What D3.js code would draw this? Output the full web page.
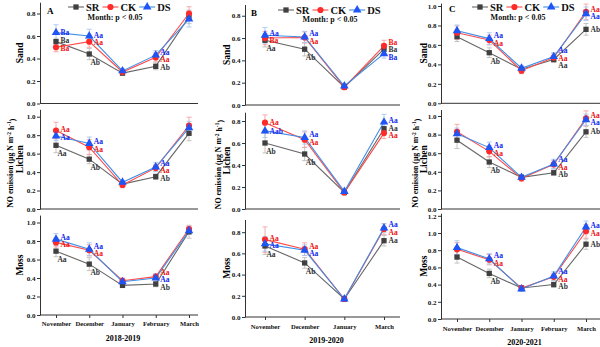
<!DOCTYPE html>
<html>
<head>
<meta charset="utf-8">
<script src="https://cdn.jsdelivr.net/npm/d3@7/dist/d3.min.js"></script>
<style>
  body { margin: 0; background: #fff; }
  text { font-family: "Liberation Serif", "Times New Roman", serif; font-weight: bold; }
</style>
</head>
<body>
<svg id="chart" width="600" height="347"></svg>
<script>
// categories
const monthsAC = [ "November", "December", "January", "February", "March" ];
const monthsB = [ "November", "December", "January", "March" ];
const seriesNames = [ "SR", "CK", "DS" ];
const habitats = [ "Sand", "Lichen", "Moss" ];
const panelLetters = [ "A", "B", "C" ];
const yearLabels = [ "2018-2019", "2019-2020", "2020-2021" ];
const ticks08 = [ 0, 0.2, 0.4, 0.6, 0.8 ];
const ticks10 = [ 0, 0.2, 0.4, 0.6, 0.8, 1.0 ];
const ticks12 = [ 0, 0.2, 0.4, 0.6, 0.8, 1.0, 1.2 ];

// values, rows = SR, CK, DS
const sandA   = [ [ 0.55, 0.44, 0.27, 0.33, 0.77 ], [ 0.50, 0.55, 0.28, 0.41, 0.80 ], [ 0.63, 0.60, 0.29, 0.43, 0.75 ] ];
const lichenA = [ [ 0.69, 0.54, 0.27, 0.35, 0.82 ], [ 0.85, 0.67, 0.26, 0.445, 0.905 ], [ 0.79, 0.71, 0.29, 0.455, 0.88 ] ];
const mossA   = [ [ 0.69, 0.55, 0.32, 0.335, 0.90 ], [ 0.785, 0.70, 0.37, 0.415, 0.93 ], [ 0.82, 0.71, 0.36, 0.40, 0.91 ] ];
const sandB   = [ [ 0.58, 0.50, 0.16, 0.50 ], [ 0.60, 0.605, 0.16, 0.53 ], [ 0.625, 0.61, 0.17, 0.46 ] ];
const lichenB = [ [ 0.60, 0.50, 0.15, 0.73 ], [ 0.785, 0.63, 0.15, 0.69 ], [ 0.71, 0.65, 0.16, 0.79 ] ];
const mossB   = [ [ 0.67, 0.51, 0.17, 0.72 ], [ 0.73, 0.64, 0.17, 0.83 ], [ 0.69, 0.63, 0.17, 0.84 ] ];
const sandC   = [ [ 0.685, 0.52, 0.35, 0.45, 0.76 ], [ 0.725, 0.65, 0.335, 0.47, 0.94 ], [ 0.745, 0.665, 0.36, 0.48, 0.92 ] ];
const lichenC = [ [ 0.74, 0.505, 0.34, 0.39, 0.83 ], [ 0.83, 0.62, 0.33, 0.48, 0.975 ], [ 0.81, 0.66, 0.34, 0.485, 0.96 ] ];
const mossC   = [ [ 0.72, 0.53, 0.36, 0.40, 0.87 ], [ 0.81, 0.69, 0.36, 0.49, 1.02 ], [ 0.83, 0.70, 0.35, 0.50, 1.07 ] ];

// error bars
const sandAErr   = [ [ 0.03, 0.05, 0.02, 0.03, 0.06 ], [ 0.04, 0.05, 0.02, 0.04, 0.06 ], [ 0.07, 0.06, 0.02, 0.04, 0.07 ] ];
const lichenAErr = [ [ 0.08, 0.05, 0.02, 0.03, 0.08 ], [ 0.09, 0.08, 0.03, 0.04, 0.09 ], [ 0.05, 0.07, 0.02, 0.05, 0.07 ] ];
const mossAErr   = [ [ 0.06, 0.07, 0.02, 0.03, 0.07 ], [ 0.05, 0.06, 0.03, 0.03, 0.03 ], [ 0.06, 0.07, 0.02, 0.04, 0.04 ] ];
const sandBErr   = [ [ 0.06, 0.06, 0.02, 0.04 ], [ 0.06, 0.05, 0.02, 0.05 ], [ 0.07, 0.05, 0.02, 0.04 ] ];
const lichenBErr = [ [ 0.09, 0.06, 0.02, 0.05 ], [ 0.07, 0.07, 0.02, 0.05 ], [ 0.06, 0.06, 0.02, 0.07 ] ];
const mossBErr   = [ [ 0.08, 0.05, 0.02, 0.05 ], [ 0.12, 0.06, 0.02, 0.05 ], [ 0.07, 0.05, 0.02, 0.04 ] ];
const sandCErr   = [ [ 0.05, 0.05, 0.03, 0.03, 0.06 ], [ 0.07, 0.05, 0.03, 0.04, 0.08 ], [ 0.06, 0.06, 0.03, 0.04, 0.07 ] ];
const lichenCErr = [ [ 0.09, 0.06, 0.03, 0.03, 0.06 ], [ 0.08, 0.06, 0.03, 0.04, 0.08 ], [ 0.06, 0.06, 0.03, 0.05, 0.06 ] ];
const mossCErr   = [ [ 0.07, 0.05, 0.03, 0.03, 0.06 ], [ 0.08, 0.06, 0.03, 0.04, 0.08 ], [ 0.08, 0.06, 0.03, 0.05, 0.07 ] ];

// significance letters
const sandALab   = [ [ "Ba", "Ab", "", "Ab", "" ], [ "Ba", "Aa", "", "Aa", "" ], [ "Ba", "Aa", "", "Aa", "" ] ];
const lichenALab = [ [ "Aa", "Ab", "", "Ab", "" ], [ "Aa", "Aa", "", "Aa", "" ], [ "Aa", "Aa", "", "Aa", "" ] ];
const mossALab   = [ [ "Aa", "Ab", "", "Ab", "" ], [ "Aa", "Aa", "", "Aa", "" ], [ "Aa", "Aa", "", "Aa", "" ] ];
const sandBLab   = [ [ "Aa", "Ab", "", "Ba" ], [ "Ba", "Aa", "", "Ba" ], [ "Aa", "Aa", "", "Ba" ] ];
const lichenBLab = [ [ "Ab", "Ab", "", "Aa" ], [ "Aa", "Aa", "", "Aa" ], [ "Aab", "Aa", "", "Aa" ] ];
const mossBLab   = [ [ "Aa", "Ab", "", "Aa" ], [ "Aa", "Aa", "", "Aa" ], [ "Aa", "Aa", "", "Aa" ] ];
const sandCLab   = [ [ "", "Ab", "", "Aa", "Ab" ], [ "", "Aa", "", "Aa", "Aa" ], [ "", "Aa", "", "Aa", "Aa" ] ];
const lichenCLab = [ [ "", "Ab", "", "Ab", "Ab" ], [ "", "Aa", "", "Aa", "Aa" ], [ "", "Aa", "", "Aa", "Aa" ] ];
const mossCLab   = [ [ "", "Ab", "", "Ab", "Ab" ], [ "", "Aa", "", "Aa", "Aa" ], [ "", "Aa", "", "Aa", "Aa" ] ];

// layout
const COLS = [
  { axisX: 40,  xFirst: 56,  xLast: 189, xEnd: 198, noX: 10,  habX: 20,  legendX: 68,  legendY: 7,  monthX: 115, monthY: 20, letterX: 47,  letterY: 11, catY: 326, yearY: 341 },
  { axisX: 245, xFirst: 265, xLast: 384, xEnd: 400, noX: 218, habX: 227, legendX: 278, legendY: 10, monthX: 330, monthY: 22, letterX: 251, letterY: 13, catY: 329, yearY: 343 },
  { axisX: 441, xFirst: 457, xLast: 586, xEnd: 600, noX: 415, habX: 424, legendX: 472, legendY: 7,  monthX: 518, monthY: 20, letterX: 449, letterY: 9,  catY: 331, yearY: 345 },
];
const ROWS = [
  [ { y0: 103.5, unit: 112.5, max: 0.9 },  { y0: 209, unit: 92.3, max: 1.08 }, { y0: 315, unit: 92.5, max: 1.08 } ],
  [ { y0: 105,   unit: 111.6, max: 0.9 },  { y0: 209, unit: 110,  max: 0.88 }, { y0: 317, unit: 106,  max: 0.92 } ],
  [ { y0: 103.3, unit: 97.3,  max: 1.03 }, { y0: 209, unit: 93,   max: 1.07 }, { y0: 319, unit: 86,   max: 1.23 } ],
];

const LINE = [ "#666", "#ff4a4a", "#3f8ee6" ];
const MARK = [ "#404040", "#ff2b2b", "#1f55f5" ];
const ERRC = [ "#bdbdbd", "#f4a3a3", "#a9c6ef" ];
const LABC = [ "#333", "#f01010", "#1028f0" ];
const SYM = [ d3.symbolSquare, d3.symbolCircle, d3.symbolTriangle ];
const SYMSIZE = [ 28, 30, 32 ];

const panels = [
  [ sandA, sandAErr, sandALab, ticks08 ], [ lichenA, lichenAErr, lichenALab, ticks10 ], [ mossA, mossAErr, mossALab, ticks10 ],
  [ sandB, sandBErr, sandBLab, ticks08 ], [ lichenB, lichenBErr, lichenBLab, ticks08 ], [ mossB, mossBErr, mossBLab, ticks08 ],
  [ sandC, sandCErr, sandCLab, ticks10 ], [ lichenC, lichenCErr, lichenCLab, ticks10 ], [ mossC, mossCErr, mossCLab, ticks12 ],
];
const monthsByCol = [ monthsAC, monthsB, monthsAC ];

const svg = d3.select( "#chart" );
svg.append( "rect" ).attr( "width", 600 ).attr( "height", 347 ).attr( "fill", "#fff" );

COLS.forEach( ( col, c ) => {
  const months = monthsByCol[c];
  const x = d3.scalePoint().domain( months ).range( [ col.xFirst, col.xLast ] );

  ROWS[c].forEach( ( row, r ) => {
    const [ vals, errs, labs, ticks ] = panels[c * 3 + r];
    const y = d3.scaleLinear().domain( [ 0, row.max ] ).range( [ row.y0, row.y0 - row.max * row.unit ] );
    const g = svg.append( "g" );

    // y axis
    const ya = g.append( "g" )
      .attr( "transform", `translate(${col.axisX},0)` )
      .call( d3.axisLeft( y ).tickValues( ticks ).tickFormat( d3.format( ".1f" ) ).tickSize( 3 ).tickSizeOuter( 0 ) );
    ya.selectAll( "path,line" ).attr( "stroke", "#333" );
    ya.selectAll( "text" ).attr( "font-size", 7 ).attr( "fill", "#111" ).attr( "x", -4.5 );

    // x axis
    g.append( "line" )
      .attr( "x1", col.axisX ).attr( "x2", col.xEnd )
      .attr( "y1", row.y0 ).attr( "y2", row.y0 )
      .attr( "stroke", "#333" );
    if ( r === 2 ) {
      const xa = g.append( "g" )
        .attr( "transform", `translate(0,${row.y0})` )
        .call( d3.axisBottom( x ).tickSize( 3 ).tickSizeOuter( 0 ) );
      xa.select( ".domain" ).remove();
      xa.selectAll( "line" ).attr( "stroke", "#333" );
      xa.selectAll( "text" ).attr( "font-size", 6.6 ).attr( "fill", "#111" )
        .attr( "y", col.catY - row.y0 ).attr( "dy", 0 );
      g.append( "text" )
        .attr( "x", ( col.axisX + col.xEnd ) / 2 + 4 ).attr( "y", col.yearY )
        .attr( "text-anchor", "middle" ).attr( "font-size", 8 )
        .text( yearLabels[c] );
    }

    // habitat label
    g.append( "text" )
      .attr( "transform", `translate(${col.habX},${( row.y0 + y( row.max ) ) / 2}) rotate(-90)` )
      .attr( "text-anchor", "middle" ).attr( "dy", "0.35em" )
      .attr( "font-size", 9.5 )
      .text( habitats[r] );

    // error bars
    vals.forEach( ( s, si ) => {
      s.forEach( ( v, i ) => {
        const cx = x( months[i] );
        const e = errs[si][i];
        const eg = g.append( "g" ).attr( "stroke", ERRC[si] ).attr( "stroke-width", 0.9 );
        eg.append( "line" ).attr( "x1", cx ).attr( "x2", cx ).attr( "y1", y( v - e ) ).attr( "y2", y( v + e ) );
        eg.append( "line" ).attr( "x1", cx - 2.5 ).attr( "x2", cx + 2.5 ).attr( "y1", y( v - e ) ).attr( "y2", y( v - e ) );
        eg.append( "line" ).attr( "x1", cx - 2.5 ).attr( "x2", cx + 2.5 ).attr( "y1", y( v + e ) ).attr( "y2", y( v + e ) );
      } );
    } );

    // lines
    const line = d3.line().x( ( d, i ) => x( months[i] ) ).y( d => y( d ) );
    vals.forEach( ( s, si ) => {
      g.append( "path" ).attr( "d", line( s ) )
        .attr( "fill", "none" ).attr( "stroke", LINE[si] ).attr( "stroke-width", 1.1 );
    } );

    // markers
    vals.forEach( ( s, si ) => {
      g.selectAll( null ).data( s ).join( "path" )
        .attr( "transform", ( d, i ) => `translate(${x( months[i] )},${y( d )})` )
        .attr( "d", d3.symbol( SYM[si], SYMSIZE[si] ) )
        .attr( "fill", MARK[si] );
    } );

    // letters
    months.forEach( ( m, i ) => {
      const cx = x( m );
      const items = [];
      seriesNames.forEach( ( n, si ) => {
        if ( labs[si][i] ) items.push( { si, v: vals[si][i], t: labs[si][i] } );
      } );
      if ( !items.length ) return;
      const minV = d3.min( vals, s => s[i] );
      const right = [];
      items.forEach( it => {
        if ( it.si === 0 && i < 2 && it.v === minV ) {
          g.append( "text" ).attr( "x", cx + 6 ).attr( "y", y( it.v ) + 11 )
            .attr( "text-anchor", "middle" ).attr( "font-size", 7.5 ).attr( "fill", LABC[0] ).text( it.t );
        } else {
          right.push( { ...it, py: y( it.v ) } );
        }
      } );
      right.sort( ( a, b ) => a.py - b.py );
      for ( let k = 0; k < 30; k++ ) {
        for ( let j = 1; j < right.length; j++ ) {
          const diff = right[j].py - right[j - 1].py;
          if ( diff < 7.5 ) {
            const sh = ( 7.5 - diff ) / 2;
            right[j - 1].py -= sh;
            right[j].py += sh;
          }
        }
      }
      right.forEach( it => {
        g.append( "text" ).attr( "x", cx + 4.5 ).attr( "y", it.py ).attr( "dy", "0.35em" )
          .attr( "font-size", 7.5 ).attr( "fill", LABC[it.si] ).text( it.t );
      } );
    } );

    if ( r === 1 ) {
      const t = g.append( "text" )
        .attr( "transform", `translate(${col.noX},${( row.y0 + y( row.max ) ) / 2 + 4}) rotate(-90)` )
        .attr( "text-anchor", "middle" ).attr( "dy", "0.35em" ).attr( "font-size", 7.8 );
      t.append( "tspan" ).text( "NO emission (μg N m" );
      t.append( "tspan" ).attr( "dy", "-0.4em" ).attr( "font-size", 5.5 ).text( "-2" );
      t.append( "tspan" ).attr( "dy", "0.4em" ).text( " h" );
      t.append( "tspan" ).attr( "dy", "-0.4em" ).attr( "font-size", 5.5 ).text( "-1" );
      t.append( "tspan" ).attr( "dy", "0.4em" ).text( ")" );
    }

    if ( r === 0 ) {
      // panel letter
      g.append( "text" ).attr( "x", col.letterX ).attr( "y", col.letterY ).attr( "dy", "0.35em" )
        .attr( "font-size", 9 ).text( panelLetters[c] );
      // legend
      let lx = col.legendX;
      seriesNames.forEach( ( n, si ) => {
        g.append( "line" ).attr( "x1", lx ).attr( "x2", lx + 16 )
          .attr( "y1", col.legendY ).attr( "y2", col.legendY )
          .attr( "stroke", LINE[si] ).attr( "stroke-width", 1.1 );
        g.append( "path" ).attr( "transform", `translate(${lx + 8},${col.legendY})` )
          .attr( "d", d3.symbol( SYM[si], SYMSIZE[si] ) ).attr( "fill", MARK[si] );
        const tx = g.append( "text" ).attr( "x", lx + 18 ).attr( "y", col.legendY ).attr( "dy", "0.35em" )
          .attr( "font-size", 10.5 ).attr( "fill", "#111" ).text( n );
        lx += 18 + tx.node().getComputedTextLength() + 3;
      } );
      g.append( "text" ).attr( "x", col.monthX ).attr( "y", col.monthY )
        .attr( "text-anchor", "middle" ).attr( "font-size", 8 ).attr( "fill", "#111" )
        .text( "Month: p < 0.05" );
    }
  } );
} );
</script>
</body>
</html>
